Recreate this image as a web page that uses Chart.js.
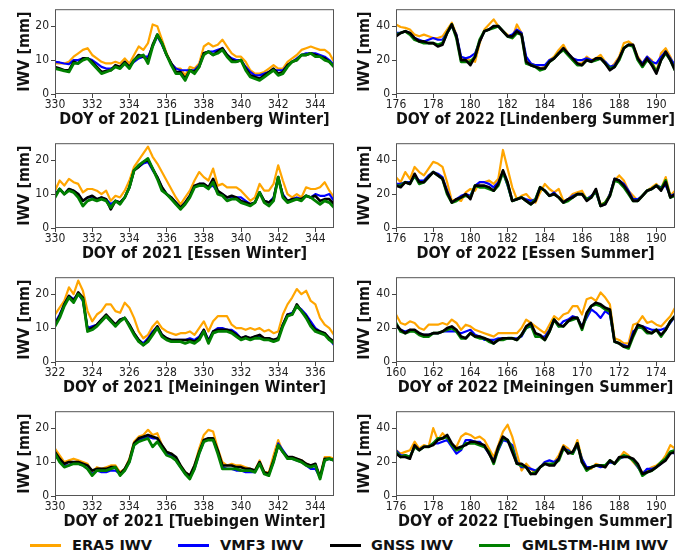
<!DOCTYPE html>
<html><head><meta charset="utf-8">
<script src="https://cdn.jsdelivr.net/npm/chart.js@4.4.1/dist/chart.umd.min.js"></script>
<style>
html,body{margin:0;padding:0;background:#fff;}
#wrap{position:relative;width:699px;height:557px;overflow:hidden;background:#fff;}
canvas{position:absolute;}
.leg{position:absolute;top:536px;height:18px;font:bold 14.5px "DejaVu Sans";color:#111;line-height:18px;white-space:nowrap;}
.sw{position:absolute;height:3px;top:544px;width:31px;}
</style></head><body><div id="wrap"></div>
<script>
// ---------- DATA (values sampled every 0.25 day) ----------
const seriesNames = ['ERA5 IWV', 'VMF3 IWV', 'GNSS IWV', 'GMLSTM-HIM IWV'];

// Lindenberg Winter, DOY 330-345 (2021)
const lwEra  = [9,9,9,9.5,11,12,13,13.5,11.5,10.5,9.5,9,9,9.5,9,10.5,9,11.5,14,13,15,20.5,20,16,12,9,7.5,7.5,5.5,8,7.5,9,14,15,14,14.5,16,14,12,11,11,9.5,7,6,6,6.5,7.5,8.5,7.5,7.5,9.5,10.5,11.5,13,13.5,14,13.5,13,13,12,9.5];
const lwVmf  = [9.5,9.3,9,8.8,10,10,10.5,10.5,10,9,8,7.5,7.5,8,8,9,8,9.5,10.5,11,11,14,17,14.5,11.5,9,7.5,7,7,7,7,8.5,12,12.5,12.5,13,13.5,11.5,10.5,10,10,8,6.5,5.5,5.5,6,6.5,7,7,7,8.5,9.5,10.5,11.5,12,12,12,11.5,11,10,8.5];
const lwGnss = [8,7.5,7,7,9.5,9,10.5,10.5,9.5,8,6.5,6.8,7,8.5,8,9.5,8,10,11.5,11,10,14.5,17.5,15,11.5,9,6.5,6.5,4.5,7,6.5,8,12,12.5,11.5,12.5,13.5,11.5,10,9.5,10,7.5,5.5,5,4.5,5.5,6.5,7.5,6,6.5,8.5,9.5,10,11.5,11.5,12,11.5,11,10.5,9.5,8];
const lwLstm = [7.5,7.2,6.8,6.5,9,9,10,10.5,9,7.5,6,6.5,7,8,7.5,9,7.5,10,11,11.5,9,14,17.5,15,11.5,8.5,6,6,4,7,6,8,11.5,12.5,11.5,12,13,11,9.5,9.5,10,7,5,4.5,4,5,6,7,5.5,6,8,9.5,10,11.5,11.5,12,11,11,10,9.5,8];

// Lindenberg Summer, DOY 176-191 (2022)
const lsEra  = [41,39.5,39,38,35,34,35,34,33,33,34,38,42,35,20,21,20,19,30,38,41,44,40,37,35,33,41,36,20,18,17,15,16,20,22,26,29,24,20,18,18,22,20,21,23,19,15,18,22,30,31,29,22,18,22,20,13,24,27,22,15];
const lsVmf  = [36,36,37,36,33,32,31,32,33,32,32,36,40,35,22,21,22,24,31,37,38,40,40,37,34,35,38,36,22,18,17,17,17,20,21,24,27,24,21,20,20,21,20,20,21,19,16,17,21,27,29,28,21,18,22,19,18,22,25,21,17];
const lsGnss = [34,36,37,36,33,31,31,30,30,28,29,36,41,34,20,20,17,22,31,37,38,40,40,37,34,34,37,35,19,17,16,15,15,19,21,24,27,24,21,18,17,20,19,21,21,18,14,16,21,27,29,29,21,17,21,17,12,20,25,20,14];
const lsLstm = [35,36,37,35,32,31,30,30,30,29,30,36,41,33,19,19,19,22,32,37,38,39,40,37,34,33,36,35,18,17,16,14,15,19,21,24,26,23,20,17,17,20,19,20,21,18,15,16,20,27,29,28,20,16,20,18,13,20,24,20,14];

// Essen Winter, DOY 330-345 (2021)
const ewEra  = [11,14,12.5,14.5,13.5,13,10.5,11.5,11.5,11,10,11,8,9.5,9,11,14,18,20,22,24,21,19,16.5,14,11.5,9,7,9,11,14,16.5,15,14,17.5,12.5,13,12,12,12,11,9.5,8,9,13,11,11,13,18.5,14,10,9,10,9,12,11.5,11.5,12,13.5,11,9];
const ewVmf  = [10,11.5,10,11.5,11,10,8,9,9,8.5,9,8.5,7,8,7.5,9,12,17,18,19,19.5,17,15,12,10,9,7.5,6,7.5,9.5,12,13,13,12,12.5,10.5,10,9,9,9,9,8,7,7.5,10.5,8,7.5,9,14.5,10,8,8.5,9,8.5,9.5,9,10,9.5,9.5,10,8];
const ewGnss = [9.5,11.5,10,11.5,11,10,8,9,9.5,8.5,9,8.5,5.5,8,7.5,9,12,17,18,19.5,20,17.5,15,12,10,9,7.5,6,7.5,9.5,12.5,13,13,12,14.5,11,10,9,9.5,9,8,7.5,7,7.5,10.5,8,7.5,8.5,15,9.5,8,8.5,8.5,8.5,9.5,9,9.5,8,8.5,8.5,7];
const ewLstm = [9,11.5,10,11,10.5,9,6.5,8,8.5,8,8.5,8,6,8,7,9,12,17,18.5,19.5,20.5,17.5,14.5,11,10,8.5,7,5.5,7,9,12,12.5,12.5,11.5,13.5,10,9.5,8,8.5,8.5,7.5,7,6.5,7.5,10.5,7.5,6.5,8,15,9,7.5,8,8.5,8,9.5,9,8,7,8,7.5,6];

// Essen Summer, DOY 176-191 (2022)
const esEra  = [30,27,33,29,36,33,31,35,39,38,36,27,16,17,16,21,23,22,27,27,28,26,29,46,35,24,17,19,20,17,15,21,26,23,21,23,16,17,20,21,22,17,19,21,14,15,20,28,31,28,22,19,16,19,22,24,26,23,30,19,22];
const esVmf  = [26,26,27,27,30,28,28,31,33,32,30,22,15,17,19,20,19,25,27,27,26,24,27,33,25,16,17,18,17,16,17,24,22,19,21,18,15,17,19,20,20,17,19,21,13,14,20,29,28,26,22,17,17,19,22,23,25,24,25,19,20];
const esGnss = [25,24,27,26,32,27,27,30,33,31,29,21,15,17,18,20,17,25,25,25,24,22,26,34,27,16,17,18,16,14,16,24,22,19,20,18,15,17,18,20,20,16,18,23,13,14,19,29,28,25,21,16,16,19,22,23,25,22,27,18,20];
const esLstm = [25,25,27,26,31,26,27,30,33,31,29,20,15,16,18,19,18,25,24,24,23,22,25,33,26,16,17,18,16,14,17,24,22,19,20,18,15,16,18,20,20,17,18,22,13,15,19,28,27,24,20,16,16,19,22,23,25,23,28,18,19];

// Meiningen Winter, DOY 322-337 (2021)
const mwEra  = [14,16,18,22,20,24,21,15,12,14,15,17,17,15,14.5,17.5,16,13,9,7,8,10.5,12,10,9,8.5,8,8.5,8.5,9,8,10,12,9,12,13.5,13.5,13.5,11,10,10,9.5,10,9.5,10,9,9.5,8.5,9,14,17,19,21.5,20,21,18,17,13,11,10,8];
const mwVmf  = [11.5,14,17,19.5,18.5,20,18,10,10.5,11,12.5,13.5,12,11,12.5,13,11,8.5,6.5,5.5,7,9,10.5,8,7,6.5,6.5,6.5,6.5,7,6.5,7.5,9.5,6.5,9,10,10,9.5,9.5,8.5,7,7.5,7,7.5,7.5,7,7,6.5,7,11,14,14.5,16.5,15.5,14,12,10,9,8.5,7,5];
const mwGnss = [11,13.5,17,19.5,18,20.5,19,9.5,10,11,12.5,14,12.5,11,12.5,13,11,8.5,6.5,5,6.5,8.5,10.5,8,7,6.5,6.5,6.5,6.5,6.5,6,7,9.5,6,9,9.5,9.5,9.5,9,8,7,7.5,7,7.5,8,7,7,6.5,7,11,14,14,17,15,13.5,11,9.5,9,8.5,7,6];
const mwLstm = [10.5,13,16.5,19,17.5,20,18.5,9,9.5,10.5,12,13.5,12,10.5,12,13,10.5,8,6,5,6,8,10,7.5,6.5,6,6,6,5.5,6,5.5,6.5,9,5.5,8.5,9,9,9,8.5,7.5,6.5,7,6.5,7,7,6.5,6.5,6,6.5,10.5,13.5,14,16.5,15,13,10.5,9,8.5,8,6.5,5.5];

// Meiningen Summer, DOY 160-175 (2022)
const msEra  = [28,23,22,24,23,20,19,22,22,22,23,22,25,23,19,22,21,19,18,17,16,15,17,17,17,17,17,20,25,23,21,19,17,22,27,25,28,29,33,33,28,37,38,36,41,38,34,14,13,11,11,22,23,27,23,24,22,21,24,27,32];
const msVmf  = [21,19,18,19,18,17,16,16,17,17,18,18,18,18,17,18,19,16,15,13,13,13,14,14,14,14,14,15,20,21,17,15,15,19,25,21,24,25,27,26,21,26,31,29,26,30,28,12,11,10,9,18,20,21,20,19,19,19,20,23,27];
const msGnss = [22,19,17,19,19,17,16,16,17,17,18,20,21,19,15,14,17,15,15,14,13,11,13,14,14,14,13,16,21,23,17,16,13,18,25,22,21,24,26,26,20,29,33,35,34,32,31,12,11,9,9,16,22,21,18,17,19,16,19,24,27];
const msLstm = [23,18,17,18,18,16,15,15,17,17,18,19,20,18,14,14,17,15,14,14,12,11,13,13,14,14,13,16,20,22,15,15,13,18,25,21,21,24,25,26,19,28,33,34,33,31,30,12,11,9,8,15,21,20,17,17,19,15,19,24,27];

// Tuebingen Winter, DOY 330-345 (2021)
const twEra  = [14,12,10,10.5,11,10.5,10,9.5,7,8.5,8,8.5,9,9,7,8,11,16,17.5,18,19.5,18,18.5,15,13,12.5,11,9,7,6,9,14,18,19.5,19,14,10,9,9.5,9,9,8.5,8,7.5,10.5,7,7,12,16.5,13,11.5,11.5,11,10.5,9.5,9,9,6,11.5,11.5,11];
const twVmf  = [12,10.5,9,9,10,9.5,9,8,6.5,7.5,7,7,7.5,7.5,6.5,7.5,10,15,16.5,17,17.5,17,17,14.5,12.5,12,10.5,8.5,6.5,5.5,8,12.5,16,17,16.5,13,8.5,8,8,7.5,7.5,7,7,7,10,6.5,6.5,10,15.5,13.5,11.5,11,10.5,10,9,8,8,5.5,10.5,11,10.5];
const twGnss = [13,11,9.5,10,10,10,9.5,9,7.5,8,8,8,8.5,8.5,6.5,8,10.5,15.5,17,17.5,18,17.5,17,15,13,12.5,11.5,9,7,6,9,13,16.5,17,17,13.5,9,9,9,8.5,8.5,8,8,7.5,10,7,6.5,10.5,15,13,11.5,11.5,11,10.5,9.5,9,9.5,5.5,11,11,10.5];
const twLstm = [12.5,10,8.5,9,9.5,9.5,9,8,6,7.5,7.5,7.5,8,8.5,6,7.5,10,15,16,16.5,17,14.5,16,14,12,11.5,10.5,8.5,6.5,5,8,12.5,16,16.5,16.5,12.5,8,8,8,8,7.5,7.5,7.5,7,9.5,6.5,6,10,15,13,11,11,10.5,10,9,8.5,9,5,10.5,11,10.5];

// Tuebingen Summer, DOY 176-191 (2022)
const tsEra  = [27,25,26,27,32,28,30,29,40,33,37,34,30,29,35,37,36,34,35,33,28,23,30,38,42,35,25,15,19,16,13,17,20,18,20,24,30,28,25,33,22,16,16,19,18,17,21,19,22,26,24,20,17,14,15,17,18,20,24,30,28];
const tsVmf  = [27,24,24,23,29,27,29,29,31,31,32,33,29,25,27,33,33,32,32,29,25,21,27,33,32,30,20,17,17,16,15,17,20,21,20,22,28,27,25,30,22,17,17,18,17,18,20,19,22,23,23,21,17,13,16,16,17,19,22,26,25];
const tsGnss = [25,23,23,22,30,27,29,29,30,33,34,36,31,28,29,30,32,32,31,30,25,20,29,35,33,26,19,19,17,13,13,17,19,18,18,22,29,25,26,31,20,16,17,18,18,17,21,19,23,23,23,22,19,13,14,15,17,19,21,25,26];
const tsLstm = [26,23,24,23,29,27,29,29,31,34,34,35,30,27,28,31,31,31,30,29,26,19,28,34,33,28,19,18,17,13,14,17,19,19,19,21,28,26,25,31,20,15,17,18,18,18,21,19,22,24,23,21,18,12,14,15,17,20,22,26,27];

// tick labels
const yTicksWinter = [0, 10, 20];
const yTicksSummer = [0, 20, 40];
const xTicksW330 = [330, 332, 334, 336, 338, 340, 342, 344];
const xTicksW322 = [322, 324, 326, 328, 330, 332, 334, 336];
const xTicksS176 = [176, 178, 180, 182, 184, 186, 188, 190];
const xTicksS160 = [160, 162, 164, 166, 168, 170, 172, 174];

// ---------- STYLE / LAYOUT ----------
const COLORS = ['#FFA500', '#0000FF', '#000000', '#008000'];
const WIDTHS = [2.2, 2.2, 2.6, 2.8];
const COND = '"DejaVu Sans Condensed", "DejaVu Sans", sans-serif';

function days(start, n) { const d = []; for (let i = 0; i < n; i++) d.push(start + i / 4); return d; }

const panels = [
  {col:0,row:0,start:330,end:345,ymax:25,yt:yTicksWinter,xt:xTicksW330,title:'DOY of 2021 [Lindenberg Winter]',s:[lwEra,lwVmf,lwGnss,lwLstm],winter:true},
  {col:1,row:0,start:176,end:191,ymax:50,yt:yTicksSummer,xt:xTicksS176,title:'DOY of 2022 [Lindenberg Summer]',s:[lsEra,lsVmf,lsGnss,lsLstm],winter:false},
  {col:0,row:1,start:330,end:345,ymax:25,yt:yTicksWinter,xt:xTicksW330,title:'DOY of 2021 [Essen Winter]',s:[ewEra,ewVmf,ewGnss,ewLstm],winter:true},
  {col:1,row:1,start:176,end:191,ymax:50,yt:yTicksSummer,xt:xTicksS176,title:'DOY of 2022 [Essen Summer]',s:[esEra,esVmf,esGnss,esLstm],winter:false},
  {col:0,row:2,start:322,end:337,ymax:25,yt:yTicksWinter,xt:xTicksW322,title:'DOY of 2021 [Meiningen Winter]',s:[mwEra,mwVmf,mwGnss,mwLstm],winter:true},
  {col:1,row:2,start:160,end:175,ymax:50,yt:yTicksSummer,xt:xTicksS160,title:'DOY of 2022 [Meiningen Summer]',s:[msEra,msVmf,msGnss,msLstm],winter:false},
  {col:0,row:3,start:330,end:345,ymax:25,yt:yTicksWinter,xt:xTicksW330,title:'DOY of 2021 [Tuebingen Winter]',s:[twEra,twVmf,twGnss,twLstm],winter:true},
  {col:1,row:3,start:176,end:191,ymax:50,yt:yTicksSummer,xt:xTicksS176,title:'DOY of 2022 [Tuebingen Summer]',s:[tsEra,tsVmf,tsGnss,tsLstm],winter:false}
];

const COLS = [{cx:0, cw:345, yw:55, pr:11, ytp:15.7}, {cx:345, cw:354, yw:51, pr:24, ytp:10.1}];
const ROW_TOP = [2, 136, 270, 404];
const PAD_T = 2, PH = 92, XH = 35;

const framePlugin = {
  id: 'frame',
  afterDraw(c) {
    const {ctx, chartArea: a} = c;
    ctx.save();
    ctx.strokeStyle = '#555';
    ctx.lineWidth = 1;
    ctx.strokeRect(a.left + 0.5, a.top + 0.5, a.right - a.left - 1, a.bottom - a.top - 1);
    ctx.restore();
  }
};

const wrap = document.getElementById('wrap');
panels.forEach(p => {
  const col = COLS[p.col];
  const cv = document.createElement('canvas');
  const H = PAD_T + PH + XH;
  cv.width = col.cw; cv.height = H;
  cv.style.left = col.cx + 'px';
  cv.style.top = (ROW_TOP[p.row] - PAD_T) + 'px';
  cv.style.width = col.cw + 'px'; cv.style.height = H + 'px';
  wrap.appendChild(cv);
  const x = days(p.start, p.s[0].length);
  // draw order: first dataset drawn on top
  const order = p.winter ? [3, 2, 1, 0] : [2, 3, 1, 0];
  const datasets = order.map(k => ({
    label: seriesNames[k],
    data: p.s[k].map((v, i) => ({x: x[i], y: v})),
    borderColor: COLORS[k],
    borderWidth: WIDTHS[k],
    pointRadius: 0,
    tension: 0,
    borderJoinStyle: 'round',
    borderCapStyle: 'round',
    fill: false
  }));
  new Chart(cv, {
    type: 'line',
    data: {datasets},
    options: {
      responsive: false, animation: false, devicePixelRatio: 1,
      layout: {padding: {top: PAD_T, right: col.pr, left: 0, bottom: 0}},
      plugins: {legend: {display: false}, tooltip: {enabled: false}},
      scales: {
        x: {
          type: 'linear', min: p.start, max: p.end, offset: false,
          afterBuildTicks: s => { s.ticks = p.xt.map(v => ({value: v})); },
          afterFit: s => { s.height = XH; },
          grid: {display: true, drawOnChartArea: false, drawTicks: true, tickLength: 4, color: '#444', lineWidth: 1},
          border: {display: false},
          ticks: {font: {family: COND, size: 12}, color: '#222', padding: 0, maxRotation: 0, autoSkip: false},
          title: {display: true, text: p.title, color: '#111', font: {family: COND, size: 16, weight: 'bold'}, padding: {top: 0, bottom: 0}}
        },
        y: {
          min: 0, max: p.ymax,
          afterBuildTicks: s => { s.ticks = p.yt.map(v => ({value: v})); },
          afterFit: s => { s.width = col.yw; },
          grid: {display: true, drawOnChartArea: false, drawTicks: true, tickLength: 4, color: '#444', lineWidth: 1},
          border: {display: false},
          ticks: {font: {family: COND, size: 12}, color: '#222', padding: 2, autoSkip: false},
          title: {display: true, text: 'IWV [mm]', color: '#111', font: {family: COND, size: 16, weight: 'bold'}, padding: {top: col.ytp, bottom: 0}}
        }
      }
    },
    plugins: [framePlugin]
  });
});

// legend
const legPos = [{l: 30, t: 72}, {l: 178, t: 220}, {l: 330, t: 371}, {l: 479, t: 522}];
seriesNames.forEach((n, k) => {
  const sw = document.createElement('div');
  sw.className = 'sw'; sw.style.left = legPos[k].l + 'px'; sw.style.background = COLORS[k];
  wrap.appendChild(sw);
  const tx = document.createElement('div');
  tx.className = 'leg'; tx.style.left = legPos[k].t + 'px'; tx.textContent = n;
  wrap.appendChild(tx);
});
</script></body></html>
